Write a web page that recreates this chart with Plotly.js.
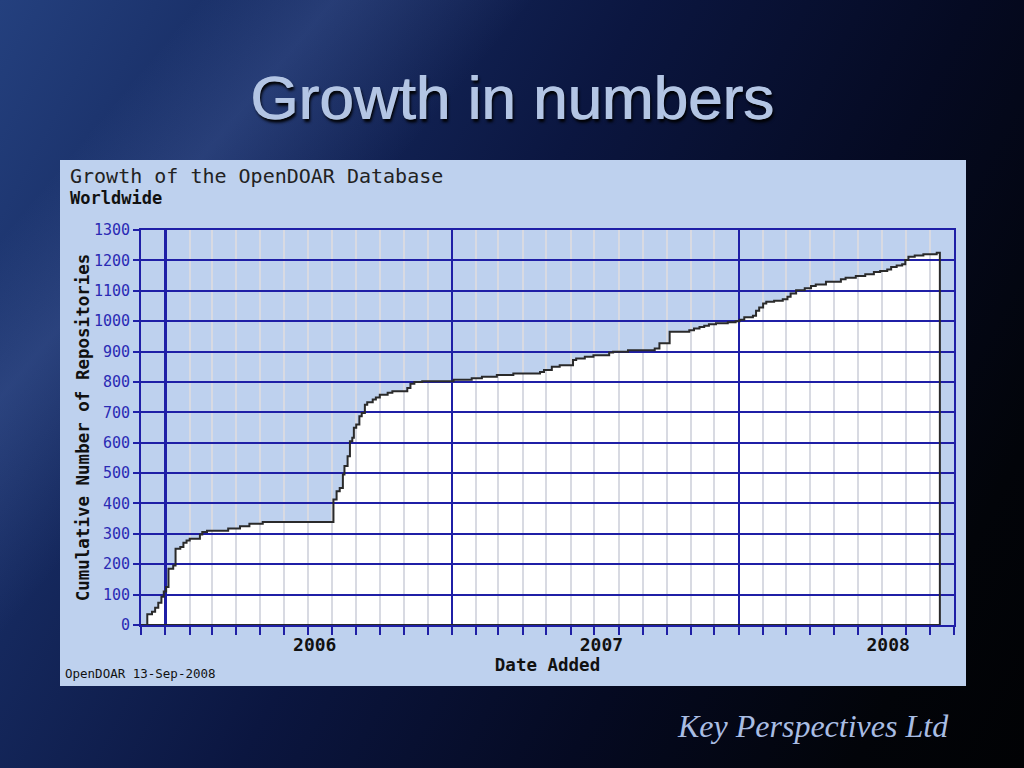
<!DOCTYPE html>
<html>
<head>
<meta charset="utf-8">
<script src="https://cdn.plot.ly/plotly-3.0.1.min.js"></script>
<style>
  html, body { margin:0; padding:0; width:1024px; height:768px; overflow:hidden; }
  body {
    background:
      linear-gradient(130deg, rgba(0,0,0,0) 12%, rgba(110,140,210,0.20) 20%, rgba(0,0,0,0) 32%),
      linear-gradient(118deg, #24407e 0%, #162a60 22%, #0b1640 45%, #050a22 68%, #020409 88%, #010204 100%);
  }
  #chart { width:1024px; height:768px; }
</style>
</head>
<body>
<div id="chart"></div>
<script>
// ---- data ----
var dates = [
  '2005-12-01','2005-12-09','2005-12-15','2005-12-19','2005-12-23','2005-12-27','2005-12-30',
  '2006-01-02','2006-01-05','2006-01-11','2006-01-14','2006-01-20','2006-01-24','2006-01-28',
  '2006-02-01','2006-02-14','2006-02-17','2006-02-23','2006-03-22','2006-04-06','2006-04-18',
  '2006-05-05','2006-08-03','2006-08-07','2006-08-11','2006-08-15','2006-08-17','2006-08-21',
  '2006-08-24','2006-08-27','2006-08-29','2006-09-01','2006-09-05','2006-09-08','2006-09-12',
  '2006-09-15','2006-09-22','2006-09-26','2006-10-01','2006-10-11','2006-10-17','2006-11-05',
  '2006-11-09','2006-11-14','2006-11-24','2007-01-03','2007-01-26','2007-02-08','2007-02-27',
  '2007-03-20','2007-04-23','2007-04-28','2007-05-08','2007-05-18','2007-06-04','2007-06-08',
  '2007-06-19','2007-06-30','2007-07-20','2007-07-25','2007-08-13','2007-09-16','2007-09-22',
  '2007-10-05','2007-10-30','2007-11-05','2007-11-12','2007-11-18','2007-11-24','2007-12-03',
  '2007-12-18','2007-12-28','2008-01-02','2008-01-08','2008-01-19','2008-01-23','2008-01-27',
  '2008-02-01','2008-02-05','2008-02-15','2008-02-26','2008-03-03','2008-03-07','2008-03-14',
  '2008-03-25','2008-04-02','2008-04-08','2008-04-21','2008-05-10','2008-05-16','2008-05-29',
  '2008-06-10','2008-06-21','2008-06-29','2008-07-08','2008-07-13','2008-07-20','2008-07-27',
  '2008-07-31','2008-08-04','2008-08-12','2008-08-23','2008-09-09','2008-09-13'
];
var repositories = [
  0,35,44,57,73,93,110,
  125,185,196,251,257,271,278,
  284,298,306,310,318,325,333,
  339,413,440,451,495,523,555,
  605,616,649,660,687,698,725,
  733,742,749,758,764,769,780,
  794,800,802,807,812,817,823,
  828,833,839,850,855,872,877,
  883,888,897,899,904,910,927,
  965,970,976,981,985,990,993,
  996,1000,1005,1013,1018,1034,1045,
  1058,1064,1067,1072,1080,1091,1102,
  1108,1116,1121,1130,1138,1143,1149,
  1154,1162,1165,1170,1178,1183,1187,
  1201,1212,1216,1220,1225,0
];
var xRange = ['2005-12-01', '2008-10-01'];
var yRange = [0, 1300];
var slideTitle = 'Growth in numbers';
var chartTitle = 'Growth of the OpenDOAR Database';
var chartSubtitle = 'Worldwide';
var yTitle = 'Cumulative Number of Repositories';
var xTitle = 'Date Added';
var stamp = 'OpenDOAR 13-Sep-2008';
var footer = 'Key Perspectives Ltd';

// closed outline: back along the zero line to the first date
var outlineX = dates.concat([dates[0]]);
var outlineY = repositories.concat([0]);

var BLUE = '#1f1fa6';
var MONO = 'DejaVu Sans Mono, Liberation Mono, monospace';

var traces = [
  { // white area under the curve (lower subplot)
    type:'scatter', mode:'lines', x:dates, y:repositories,
    xaxis:'x', yaxis:'y',
    line:{shape:'hv', width:0, color:'rgba(0,0,0,0)'},
    fill:'tozeroy', fillcolor:'#ffffff', hoverinfo:'skip', showlegend:false
  },
  { // black step outline (upper subplot, above grid)
    type:'scatter', mode:'lines', x:outlineX, y:outlineY,
    xaxis:'x2', yaxis:'y2',
    line:{shape:'hv', width:2, color:'#2a2a2a'},
    hoverinfo:'skip', showlegend:false
  }
];

var layout = {
  width:1024, height:768,
  margin:{l:141, r:70, t:230, b:143},
  paper_bgcolor:'rgba(0,0,0,0)',
  plot_bgcolor:'rgba(0,0,0,0)',
  showlegend:false,
  title:{
    text:slideTitle, xref:'container', yref:'container', x:0.5, y:1-97/768,
    xanchor:'center', yanchor:'middle',
    font:{family:'Liberation Sans, Arial, sans-serif', size:62, color:'#b3c5e4',
          shadow:'1px 0px 0px #b3c5e4, 2px 3px 3px #000000'}
  },
  xaxis:{type:'date', range:xRange, visible:false, domain:[0,1], anchor:'y'},
  yaxis:{range:yRange, visible:false, domain:[0,1], anchor:'x'},
  xaxis2:{
    type:'date', range:xRange, domain:[0,1], anchor:'y2',
    dtick:'M12', tick0:'2006-01-01', ticklabelmode:'period', tickformat:'%Y',
    ticklabelstandoff:-6, ticklabelshift:6,
    showgrid:true, gridcolor:BLUE, gridwidth:2.5,
    ticks:'outside', ticklen:8, tickwidth:2, tickcolor:BLUE,
    tickfont:{family:MONO, size:18, color:'#111', weight:'bold'},
    showline:true, linecolor:BLUE, linewidth:2, mirror:true,
    zeroline:false,
    minor:{dtick:'M1', tick0:'2006-01-01', showgrid:true, gridcolor:'#d8dae2', gridwidth:2,
           ticks:'outside', ticklen:8, tickwidth:2, tickcolor:BLUE},
    title:{text:xTitle, standoff:4, font:{family:MONO, size:17.5, color:'#111', weight:'bold'}}
  },
  yaxis2:{
    range:yRange, domain:[0,1], anchor:'x2', dtick:100, tick0:0,
    showgrid:true, gridcolor:BLUE, gridwidth:2,
    ticks:'outside', ticklen:6, tickwidth:2, tickcolor:BLUE,
    tickfont:{family:MONO, size:15, color:'#2a2ab4'},
    showline:true, linecolor:BLUE, linewidth:2, mirror:true,
    zeroline:false,
    title:{text:yTitle, standoff:0, font:{family:MONO, size:17.5, color:'#111', weight:'bold'}}
  },
  shapes:[
    {type:'rect', xref:'paper', yref:'paper', layer:'below',
     x0:(60-141)/813, x1:(966-141)/813, y0:(625-686)/395, y1:(625-160)/395,
     fillcolor:'#bed1ee', line:{width:0}}
  ],
  annotations:[
    {text:chartTitle, xref:'paper', yref:'paper', x:(68-141)/813, y:(625-176)/395,
     xanchor:'left', yanchor:'middle', showarrow:false,
     font:{family:MONO, size:20, color:'#222'}},
    {text:chartSubtitle, xref:'paper', yref:'paper', x:(68-141)/813, y:(625-198)/395,
     xanchor:'left', yanchor:'middle', showarrow:false,
     font:{family:MONO, size:17, color:'#111', weight:'bold'}},
    {text:stamp, xref:'paper', yref:'paper', x:(63-141)/813, y:(625-673)/395,
     xanchor:'left', yanchor:'middle', showarrow:false,
     font:{family:MONO, size:12.5, color:'#111'}},
    {text:footer, xref:'paper', yref:'paper', x:(951-141)/813, y:(625-726)/395,
     xanchor:'right', yanchor:'middle', showarrow:false,
     font:{family:'Liberation Serif, DejaVu Serif, serif', size:32, color:'#a9bde3', style:'italic'}}
  ]
};

Plotly.newPlot('chart', traces, layout, {displayModeBar:false, staticPlot:true});
</script>
</body>
</html>
